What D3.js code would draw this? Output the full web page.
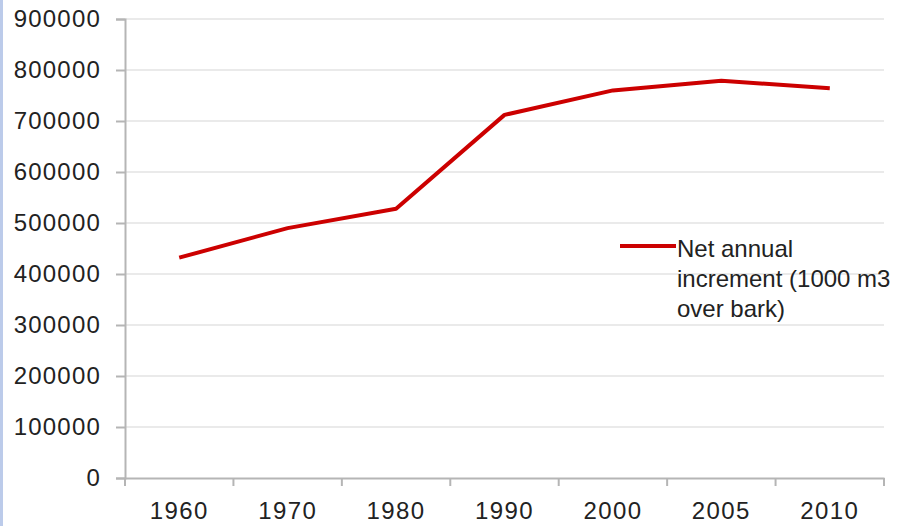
<html>
<head>
<style>
  body { margin: 0; background: #fff; }
  svg text { font-family: "Liberation Sans", Arial, sans-serif; fill: #222; }
</style>
</head>
<body>
<div id="chart"></div>
<script src="https://d3js.org/d3.v7.min.js"></script>
<script>
// data
var years = ["1960", "1970", "1980", "1990", "2000", "2005", "2010"];
var increment = [432000, 490000, 528000, 712000, 760000, 779000, 764000];
var yTicks = [0, 100000, 200000, 300000, 400000, 500000, 600000, 700000, 800000, 900000];
var legendLines = ["Net annual", "increment (1000 m3", "over bark)"];

var width = 920, height = 526;
var margin = {top: 19, right: 36, bottom: 48, left: 125};

var svg = d3.select("#chart").append("svg")
  .attr("width", width)
  .attr("height", height);

// thin blue strip on the left edge
svg.append("rect")
  .attr("x", 0).attr("y", 0)
  .attr("width", 3).attr("height", height)
  .attr("fill", "#bccbea");

var x = d3.scaleBand()
  .domain(years)
  .range([margin.left, width - margin.right]);

var y = d3.scaleLinear()
  .domain([0, 900000])
  .range([height - margin.bottom, margin.top]);

// gridlines
svg.append("g")
  .selectAll("line")
  .data(yTicks.slice(1))
  .enter().append("line")
  .attr("x1", margin.left)
  .attr("x2", width - margin.right)
  .attr("y1", function(d) { return y(d); })
  .attr("y2", function(d) { return y(d); })
  .attr("stroke", "#e3e3e3")
  .attr("stroke-width", 1.5);

// y axis
var yAxis = svg.append("g")
  .attr("transform", "translate(" + margin.left + ",0)")
  .call(d3.axisLeft(y).tickValues(yTicks).tickSize(9).tickPadding(15).tickFormat(d3.format("d")));
yAxis.select(".domain").attr("stroke", "#b5b5b5").attr("stroke-width", 2);
yAxis.selectAll(".tick line").attr("stroke", "#b5b5b5").attr("stroke-width", 2);
yAxis.selectAll("text")
  .style("font-size", "24px")
  .style("letter-spacing", "1.2px")
  .attr("fill", "#222");

// x axis, ticks sit on band edges
var xAxis = svg.append("g")
  .attr("transform", "translate(0," + (height - margin.bottom) + ")")
  .call(d3.axisBottom(x).tickSize(0).tickPadding(24));
xAxis.select(".domain").attr("stroke", "#b5b5b5").attr("stroke-width", 2);
xAxis.selectAll("text")
  .style("font-size", "24px")
  .style("letter-spacing", "1.4px")
  .attr("fill", "#222");
var edges = years.map(function(d) { return x(d); }).concat([x(years[years.length - 1]) + x.bandwidth()]);
xAxis.selectAll(".edge")
  .data(edges)
  .enter().append("line")
  .attr("class", "edge")
  .attr("x1", function(d) { return d; })
  .attr("x2", function(d) { return d; })
  .attr("y1", 0)
  .attr("y2", 8)
  .attr("stroke", "#b5b5b5")
  .attr("stroke-width", 2);

// the series line
var line = d3.line()
  .x(function(d, i) { return x(years[i]) + x.bandwidth() / 2; })
  .y(function(d) { return y(d); });

svg.append("path")
  .datum(increment)
  .attr("d", line)
  .attr("fill", "none")
  .attr("stroke", "#cc0000")
  .attr("stroke-width", 4)
  .attr("stroke-linejoin", "round");

// legend
var legend = svg.append("g").attr("transform", "translate(620,246)");
legend.append("line")
  .attr("x1", 0).attr("x2", 56)
  .attr("y1", 0).attr("y2", 0)
  .attr("stroke", "#cc0000")
  .attr("stroke-width", 4);
legend.selectAll("text")
  .data(legendLines)
  .enter().append("text")
  .attr("x", 57)
  .attr("y", function(d, i) { return 11 + i * 30; })
  .style("font-size", "24px")
  .attr("fill", "#222")
  .text(function(d) { return d; });
</script>
</body>
</html>
